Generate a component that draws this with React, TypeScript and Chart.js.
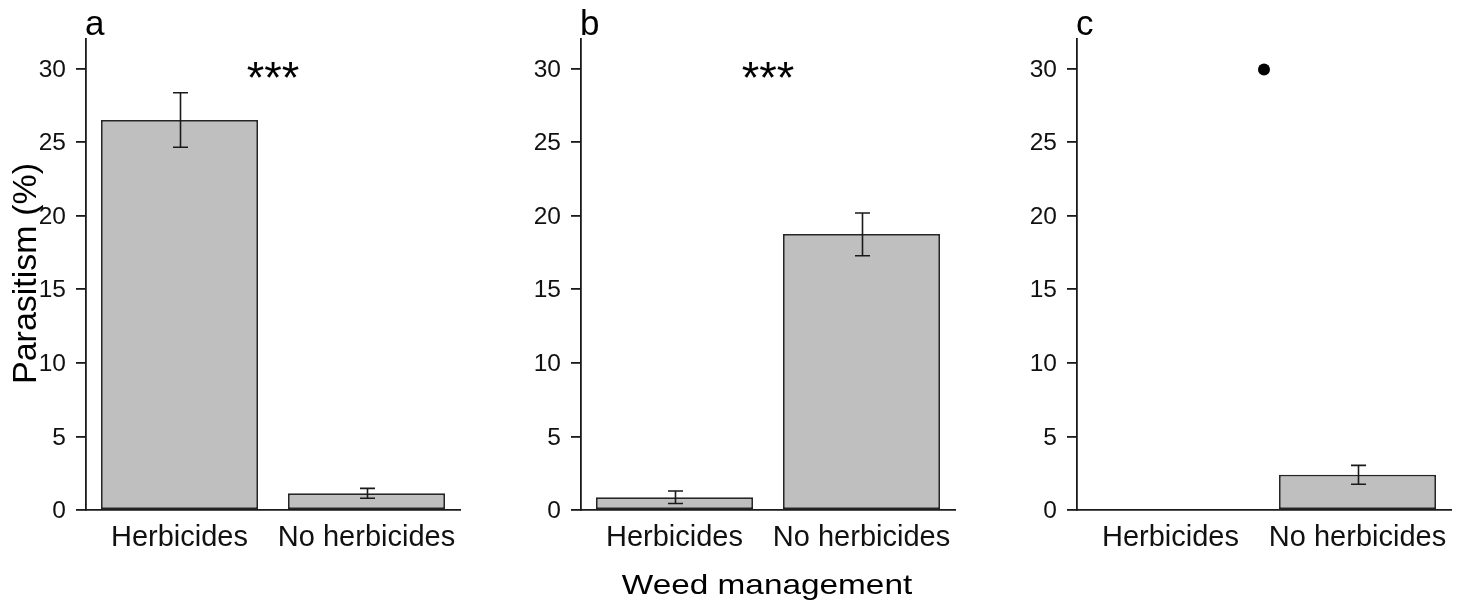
import React, { useEffect, useRef } from 'react';
import { Chart, registerables } from 'chart.js';

Chart.register(...registerables);

const W = 1466;
const H = 604;
const FONT = '"Liberation Sans", Arial, Helvetica, sans-serif';

// ---- data ----
const categories = ['Herbicides', 'No herbicides'];
const panelLetters = ['a', 'b', 'c'];

const valuesA = [26.5, 1.13];
const lowerA: (number | null)[] = [24.65, 0.8];
const upperA: (number | null)[] = [28.35, 1.47];

const valuesB = [0.86, 18.75];
const lowerB: (number | null)[] = [0.44, 17.27];
const upperB: (number | null)[] = [1.29, 20.18];

const valuesC = [0, 2.4];
const lowerC: (number | null)[] = [null, 1.75];
const upperC: (number | null)[] = [null, 3.03];

const yTicks = [0, 5, 10, 15, 20, 25, 30];
const yMin = 0;
const yMax = 32;
const annotations = ['***', '***', 'dot'];
const annotationValue = 30;
const yTitle = 'Parasitism (%)';
const xTitle = 'Weed management';

// ---- layout ----
const plotLefts = [86, 581, 1077];
const plotWidth = 374;
const plotTop = 39;
const plotBottom = 510;
const yAxisWidth = 60;
const xAxisHeight = 60;

const panels = [
  { values: valuesA, lower: lowerA, upper: upperA },
  { values: valuesB, lower: lowerB, upper: upperB },
  { values: valuesC, lower: lowerC, upper: upperC },
];

const INK = '#1a1a1a';

function makeOverlay(idx: number) {
  const p = panels[idx];
  return {
    id: 'overlay' + idx,
    afterDraw(chart: any) {
      const ctx = chart.ctx as CanvasRenderingContext2D;
      const xs = chart.scales.x;
      const ys = chart.scales.y;
      const area = chart.chartArea;
      ctx.save();
      // error bars
      ctx.strokeStyle = INK;
      ctx.lineWidth = 1.6;
      p.lower.forEach((lo, i) => {
        const hi = p.upper[i];
        if (lo == null || hi == null) return;
        const x = Math.round(xs.getPixelForValue(i)) + 0.5;
        const y1 = ys.getPixelForValue(lo);
        const y2 = ys.getPixelForValue(hi);
        ctx.beginPath();
        ctx.moveTo(x, y1);
        ctx.lineTo(x, y2);
        ctx.moveTo(x - 7.5, y1);
        ctx.lineTo(x + 7.5, y1);
        ctx.moveTo(x - 7.5, y2);
        ctx.lineTo(x + 7.5, y2);
        ctx.stroke();
      });

      // significance annotation
      const cx = (area.left + area.right) / 2;
      const ay = ys.getPixelForValue(annotationValue);
      ctx.fillStyle = '#000';
      if (annotations[idx] === 'dot') {
        ctx.beginPath();
        ctx.arc(cx, ay + 1, 6, 0, Math.PI * 2);
        ctx.fill();
      } else {
        ctx.font = `45px ${FONT}`;
        ctx.textAlign = 'center';
        ctx.textBaseline = 'alphabetic';
        const m = ctx.measureText(annotations[idx]);
        const base = ay + 2 + (m.actualBoundingBoxAscent - m.actualBoundingBoxDescent) / 2;
        ctx.fillText(annotations[idx], cx, base);
      }

      // panel letter
      ctx.fillStyle = '#000';
      ctx.font = `35px ${FONT}`;
      ctx.textAlign = 'left';
      ctx.textBaseline = 'alphabetic';
      ctx.fillText(panelLetters[idx], area.left - 1, 35);

      // y axis title (first panel)
      if (idx === 0) {
        ctx.save();
        ctx.translate(36, (plotTop + plotBottom) / 2 - 1);
        ctx.rotate(-Math.PI / 2);
        ctx.font = `34px ${FONT}`;
        ctx.textAlign = 'center';
        ctx.textBaseline = 'alphabetic';
        ctx.fillText(yTitle, 0, 0);
        ctx.restore();
      }
      // x axis title (middle panel)
      if (idx === 1) {
        ctx.save();
        ctx.translate(cx - 1, 594);
        ctx.scale(1.17, 1);
        ctx.font = `28.5px ${FONT}`;
        ctx.textAlign = 'center';
        ctx.textBaseline = 'alphabetic';
        ctx.fillText(xTitle, 0, 0);
        ctx.restore();
      }
      ctx.restore();
    },
  };
}

function Panel({ idx }: { idx: number }) {
  const ref = useRef<HTMLCanvasElement>(null);
  useEffect(() => {
    if (!ref.current) return;
    const left = plotLefts[idx];
    const right = left + plotWidth;
    const chart = new Chart(ref.current, {
      type: 'bar',
      data: {
        labels: categories,
        datasets: [
          {
            data: panels[idx].values,
            backgroundColor: '#bfbfbf',
            borderColor: '#262626',
            borderWidth: 1.8,
            borderSkipped: false,
            barPercentage: 0.84,
            categoryPercentage: 1,
          },
        ],
      },
      options: {
        responsive: false,
        animation: false,
        events: [],
        devicePixelRatio: 1,
        layout: {
          padding: {
            left: left - yAxisWidth,
            right: W - right,
            top: plotTop,
            bottom: H - plotBottom - xAxisHeight,
          },
        },
        plugins: {
          legend: { display: false },
          tooltip: { enabled: false },
          title: { display: false },
        },
        scales: {
          x: {
            type: 'category',
            offset: true,
            grid: { display: false, drawTicks: false },
            border: { display: true, color: INK, width: 1.8 },
            ticks: {
              color: '#111',
              font: { family: FONT, size: 29 },
              padding: 11,
              maxRotation: 0,
              minRotation: 0,
              autoSkip: false,
            },
            afterFit: (s: any) => {
              s.height = xAxisHeight;
            },
          },
          y: {
            type: 'linear',
            min: yMin,
            max: yMax,
            afterBuildTicks: (s: any) => {
              s.ticks = yTicks.map((v) => ({ value: v }));
            },
            grid: {
              display: true,
              drawOnChartArea: false,
              drawTicks: true,
              tickLength: 10,
              color: INK,
              lineWidth: 1.8,
            },
            border: { display: true, color: INK, width: 1.8 },
            ticks: {
              color: '#111',
              font: { family: FONT, size: 24.5 },
              padding: 10,
              labelOffset: 1.5,
            },
            afterFit: (s: any) => {
              s.width = yAxisWidth;
            },
          },
        },
      },
      plugins: [makeOverlay(idx)],
    } as any);
    return () => chart.destroy();
  }, [idx]);
  return (
    <canvas
      ref={ref}
      width={W}
      height={H}
      style={{ position: 'absolute', left: 0, top: 0, width: W, height: H }}
    />
  );
}

export default function App() {
  return (
    <div
      style={{
        position: 'absolute',
        left: 0,
        top: 0,
        width: W,
        height: H,
        background: '#fff',
        overflow: 'hidden',
      }}
    >
      {[0, 1, 2].map((i) => (
        <Panel key={i} idx={i} />
      ))}
    </div>
  );
}
